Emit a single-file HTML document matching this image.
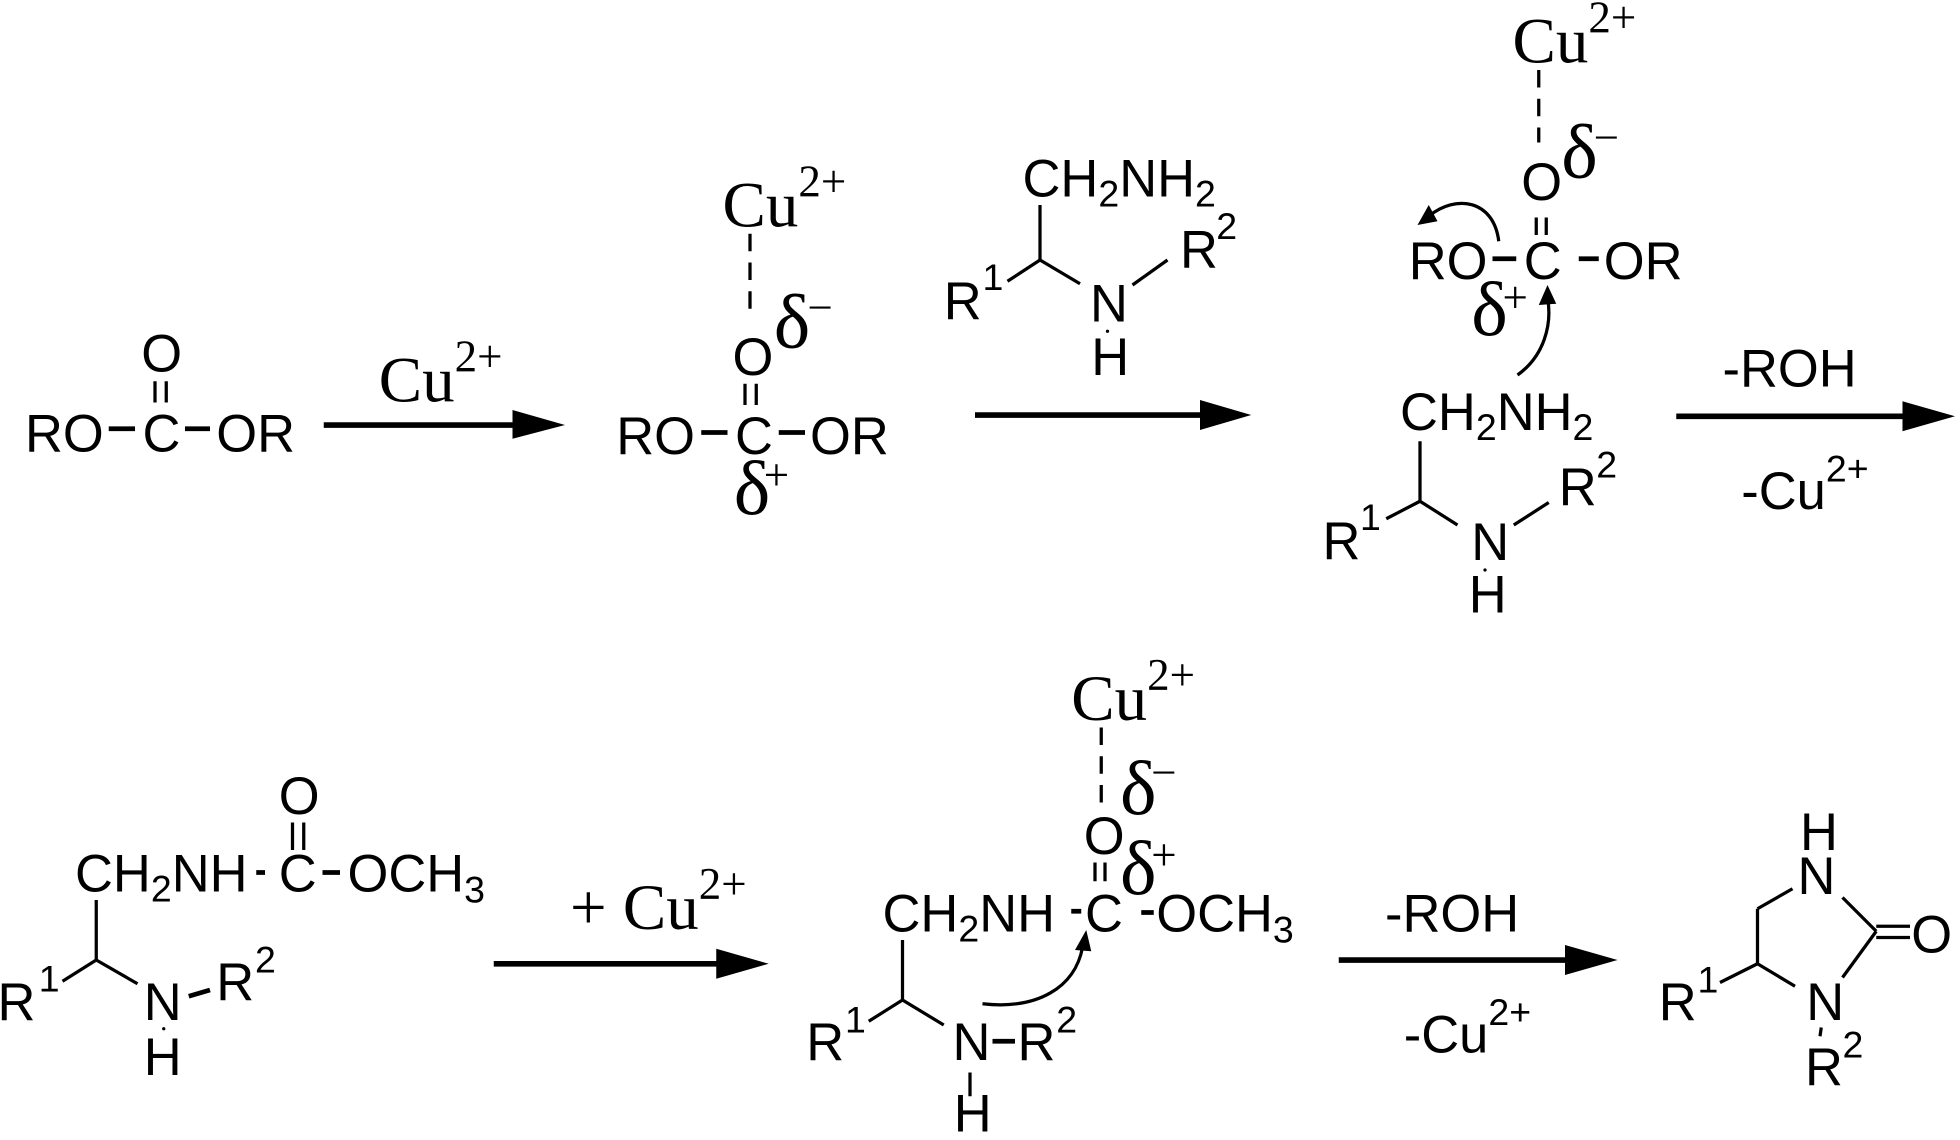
<!DOCTYPE html>
<html><head><meta charset="utf-8"><style>
html,body{margin:0;padding:0;background:#fff;}
svg{display:block;}
.s{font-family:"Liberation Sans",Arial,sans-serif;font-size:42px;fill:#000;}
.sb{font-family:"Liberation Sans",Arial,sans-serif;font-size:30px;fill:#000;}
.t{font-family:"Liberation Serif","Times New Roman",serif;font-size:52px;fill:#000;}
.tb{font-family:"Liberation Serif","Times New Roman",serif;font-size:36px;fill:#000;}
.dl{font-family:"Liberation Serif","Times New Roman",serif;font-size:62px;fill:#000;}
line,path.b{stroke:#000;stroke-width:2.6;fill:none;}
.d{stroke-dasharray:14,9;}
.thick{stroke-width:3.8 !important;}
.ar{stroke-width:4.5 !important;}
</style></head><body>
<svg width="1960" height="1140" viewBox="0 0 1568 912" xmlns="http://www.w3.org/2000/svg">

<!-- Molecule 1 -->
<text class="s" x="20" y="361">RO</text>
<line class="thick" x1="87" y1="343" x2="108" y2="343"/>
<text class="s" x="114" y="361">C</text>
<line class="thick" x1="148" y1="343" x2="168" y2="343"/>
<text class="s" x="173" y="361">OR</text>
<text class="s" x="113" y="297">O</text>
<line x1="124" y1="305" x2="124" y2="322"/>
<line x1="133" y1="305" x2="133" y2="322"/>

<!-- Arrow 1 -->
<line class="ar" x1="259" y1="340" x2="415" y2="340"/>
<polygon points="410,328 452,340 410,351"/>
<text class="t" x="303" y="321">Cu<tspan class="tb" dy="-24">2+</tspan></text>

<!-- Molecule 2 -->
<text class="t" x="578" y="181">Cu<tspan class="tb" dy="-24">2+</tspan></text>
<line class="d" x1="600" y1="187" x2="600" y2="248"/>
<text class="s" x="586" y="300">O</text>
<text class="dl" x="619" y="278">δ</text>
<text class="tb" x="646" y="258">−</text>
<line x1="596" y1="307" x2="596" y2="324"/>
<line x1="605" y1="307" x2="605" y2="324"/>
<text class="s" x="493" y="363">RO</text>
<line class="thick" x1="561" y1="346" x2="582" y2="346"/>
<text class="s" x="588" y="363">C</text>
<line class="thick" x1="623" y1="346" x2="644" y2="346"/>
<text class="s" x="648" y="363">OR</text>
<text class="dl" x="587" y="411">δ</text>
<text class="tb" x="611" y="392">+</text>

<!-- Arrow 2 + reagent -->
<line class="ar" x1="780" y1="332" x2="965" y2="332"/>
<polygon points="960,320 1001,332 960,344"/>
<text class="s" x="818" y="157">CH<tspan class="sb" dy="8">2</tspan><tspan dy="-8">NH</tspan><tspan class="sb" dy="8">2</tspan></text>
<line x1="832" y1="164" x2="832" y2="208"/>
<line x1="832" y1="208" x2="806" y2="225"/>
<line x1="832" y1="208" x2="864" y2="227"/>
<line x1="906" y1="228" x2="934" y2="208"/>
<text class="s" x="755" y="255">R</text>
<text class="sb" x="786" y="232">1</text>
<text class="s" x="872" y="257">N</text>
<text class="s" x="944" y="214">R</text>
<text class="sb" x="973" y="191">2</text>
<circle cx="886" cy="265" r="1.3"/>
<text class="s" x="873" y="300">H</text>

<!-- Molecule 3 -->
<text class="t" x="1210" y="50">Cu<tspan class="tb" dy="-24">2+</tspan></text>
<line class="d" x1="1231" y1="56" x2="1231" y2="114"/>
<text class="s" x="1217" y="160">O</text>
<text class="dl" x="1249" y="142">δ</text>
<text class="tb" x="1275" y="122">−</text>
<line x1="1229" y1="174" x2="1229" y2="188"/>
<line x1="1237" y1="174" x2="1237" y2="188"/>
<text class="s" x="1127" y="223">RO</text>
<line class="thick" x1="1194" y1="207" x2="1213" y2="207"/>
<text class="s" x="1219" y="223">C</text>
<line class="thick" x1="1263" y1="207" x2="1279" y2="207"/>
<text class="s" x="1283" y="223">OR</text>
<text class="dl" x="1177" y="268">δ</text>
<text class="tb" x="1202" y="250">+</text>
<path class="b" d="M1199,193 C1195,160 1165,155 1143,173"/>
<polygon points="1134,180 1143,164 1150,177"/>
<path class="b" d="M1214,300 C1235,285 1242,260 1238,238"/>
<polygon points="1238,228 1231,244 1245,243"/>
<text class="s" x="1120" y="344">CH<tspan class="sb" dy="8">2</tspan><tspan dy="-8">NH</tspan><tspan class="sb" dy="8">2</tspan></text>
<line x1="1136" y1="353" x2="1136" y2="401"/>
<line x1="1136" y1="401" x2="1109" y2="415"/>
<line x1="1136" y1="401" x2="1166" y2="420"/>
<line x1="1211" y1="420" x2="1239" y2="402"/>
<text class="s" x="1058" y="447">R</text>
<text class="sb" x="1088" y="424">1</text>
<text class="s" x="1177" y="448">N</text>
<text class="s" x="1247" y="404">R</text>
<text class="sb" x="1277" y="382">2</text>
<circle cx="1188" cy="456" r="1.3"/>
<text class="s" x="1175" y="490">H</text>

<!-- Arrow 3 -->
<line class="ar" x1="1341" y1="333" x2="1525" y2="333"/>
<polygon points="1522,321 1564,333 1522,345"/>
<text class="s" x="1378" y="309">-ROH</text>
<text class="s" x="1393" y="407">-Cu<tspan class="sb" dy="-22">2+</tspan></text>

<!-- Molecule 4 -->
<text class="s" x="223" y="651">O</text>
<line x1="234" y1="658" x2="234" y2="680"/>
<line x1="243" y1="658" x2="243" y2="680"/>
<text class="s" x="60" y="713">CH<tspan class="sb" dy="8">2</tspan><tspan dy="-8">NH</tspan></text>
<line class="thick" x1="205" y1="698" x2="212" y2="698"/>
<text class="s" x="223" y="713">C</text>
<line class="thick" x1="258" y1="698" x2="272" y2="698"/>
<text class="s" x="278" y="713">OCH<tspan class="sb" dy="9">3</tspan></text>
<line x1="77" y1="720" x2="77" y2="768"/>
<line x1="77" y1="768" x2="50" y2="785"/>
<line x1="77" y1="768" x2="110" y2="787"/>
<text class="s" x="-2" y="816">R</text>
<text class="sb" x="31" y="793">1</text>
<text class="s" x="115" y="816">N</text>
<line class="thick" x1="151" y1="797" x2="168" y2="792"/>
<text class="s" x="173" y="800">R</text>
<text class="sb" x="204" y="778">2</text>
<circle cx="131" cy="823" r="1.3"/>
<text class="s" x="115" y="860">H</text>

<!-- Arrow 4 -->
<line class="ar" x1="395" y1="771" x2="578" y2="771"/>
<polygon points="573,759 615,771 573,783"/>
<text class="t" x="456" y="743">+ Cu<tspan class="tb" dy="-24">2+</tspan></text>

<!-- Molecule 5 -->
<text class="t" x="857" y="576">Cu<tspan class="tb" dy="-24">2+</tspan></text>
<line class="d" x1="881" y1="582" x2="881" y2="643"/>
<text class="dl" x="896" y="651">δ</text>
<text class="tb" x="921" y="630">−</text>
<text class="s" x="867" y="683">O</text>
<text class="dl" x="896" y="715">δ</text>
<text class="tb" x="921" y="696">+</text>
<line x1="876" y1="690" x2="876" y2="705"/>
<line x1="884" y1="690" x2="884" y2="705"/>
<text class="s" x="706" y="745">CH<tspan class="sb" dy="8">2</tspan><tspan dy="-8">NH</tspan></text>
<line class="thick" x1="857" y1="729" x2="865" y2="729"/>
<text class="s" x="868" y="745">C</text>
<line class="thick" x1="913" y1="730" x2="923" y2="730"/>
<text class="s" x="925" y="745">OCH<tspan class="sb" dy="9">3</tspan></text>
<line x1="722" y1="752" x2="722" y2="800"/>
<line x1="722" y1="800" x2="695" y2="817"/>
<line x1="722" y1="800" x2="755" y2="820"/>
<text class="s" x="645" y="848">R</text>
<text class="sb" x="676" y="826">1</text>
<text class="s" x="762" y="848">N</text>
<line class="thick" x1="794" y1="833" x2="812" y2="833"/>
<text class="s" x="814" y="848">R</text>
<text class="sb" x="845" y="826">2</text>
<line x1="776" y1="858" x2="776" y2="877"/>
<text class="s" x="763" y="905">H</text>
<path class="b" d="M786,803 C830,808 860,790 866,758"/>
<polygon points="869,744 860,760 873,761"/>

<!-- Arrow 5 -->
<line class="ar" x1="1071" y1="768" x2="1255" y2="768"/>
<polygon points="1252,756 1294,768 1252,780"/>
<text class="s" x="1108" y="745">-ROH</text>
<text class="s" x="1123" y="842">-Cu<tspan class="sb" dy="-22">2+</tspan></text>

<!-- Molecule 6 -->
<text class="s" x="1440" y="680">H</text>
<text class="s" x="1438" y="715">N</text>
<line x1="1434" y1="711" x2="1406" y2="727"/>
<line x1="1406" y1="727" x2="1406" y2="771"/>
<line x1="1406" y1="771" x2="1376" y2="786"/>
<line x1="1406" y1="771" x2="1436" y2="789"/>
<line x1="1474" y1="718" x2="1501" y2="745"/>
<line x1="1474" y1="782" x2="1501" y2="745"/>
<line x1="1501" y1="741" x2="1528" y2="741"/>
<line x1="1501" y1="750" x2="1528" y2="750"/>
<text class="s" x="1529" y="762">O</text>
<text class="s" x="1327" y="816">R</text>
<text class="sb" x="1358" y="794">1</text>
<text class="s" x="1445" y="816">N</text>
<line x1="1457" y1="822" x2="1456" y2="829"/>
<text class="s" x="1444" y="868">R</text>
<text class="sb" x="1474" y="846">2</text>
</svg>
</body></html>
